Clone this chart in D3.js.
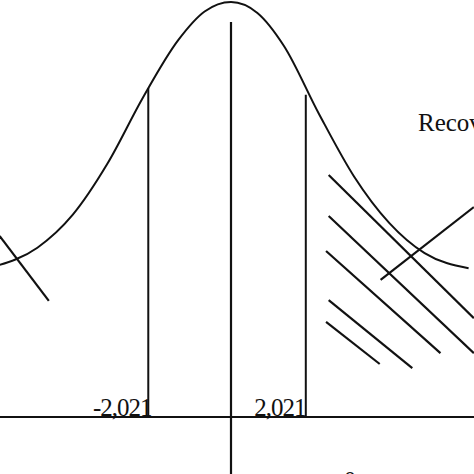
<!DOCTYPE html>
<html><head><meta charset="utf-8">
<script src="https://cdn.jsdelivr.net/npm/d3@7"></script>
<style>body{margin:0;background:#fff}text{font-family:"Liberation Serif","DejaVu Serif",serif;fill:#111}</style>
</head><body>
<script>
// curve (z, relative density)
var curveZ = [-2.7,-2.2,-1.8,-1.4,-1.0,-0.6,-0.3,0,0.3,0.6,1.0,1.4,1.8,2.2,2.7];
var curveH = [.03,.10,.22,.41,.65,.86,.965,1,.96,.84,.59,.36,.19,.08,.025];
var critZ = [-0.94, 0.85];
var critH = [.685, .66];
var critLabels = ["-2,021", "2,021"];
var baseH = -0.52;
// hatching and pointer strokes [z1,h1,z2,h2]
var hatch = [[1.11,.366,2.76,-.158],[1.11,.216,2.76,-.286],[1.08,.088,2.38,-.286],
             [1.11,-.092,2.06,-.341],[1.08,-.172,1.69,-.326]];
var pointers = [[1.70,-.018,2.76,.249],[-2.63,.143,-2.07,-.095]];

var W = 474, H = 474;
var x = d3.scaleLinear().domain([0,1]).range([231,319]);
var y = d3.scaleLinear().domain([0,1]).range([275,2]);
var svg = d3.select("body").append("svg").attr("width",W).attr("height",H);
var g = svg.append("g").attr("stroke","#111").attr("fill","none");

var pts = curveZ.map(function(z,i){ return [z, curveH[i]]; });
var line = d3.line().curve(d3.curveMonotoneX)
  .x(function(d){ return x(d[0]); }).y(function(d){ return y(d[1]); });
g.append("path").attr("d", line(pts)).attr("stroke-width",2);

g.append("line").attr("x1",0).attr("x2",W).attr("y1",y(baseH)).attr("y2",y(baseH)).attr("stroke-width",2);
g.append("line").attr("x1",x(0)).attr("x2",x(0)).attr("y1",y(.927)).attr("y2",H).attr("stroke-width",2.2);
g.selectAll(".crit").data(critZ).enter().append("line")
  .attr("x1",x).attr("x2",x).attr("y1",function(d,i){ return y(critH[i]); }).attr("y2",y(baseH)).attr("stroke-width",2);
g.selectAll(".seg").data(hatch.concat(pointers)).enter().append("line")
  .attr("x1",function(d){return x(d[0]);}).attr("y1",function(d){return y(d[1]);})
  .attr("x2",function(d){return x(d[2]);}).attr("y2",function(d){return y(d[3]);})
  .attr("stroke-width",2.2);

svg.selectAll(".cl").data(critZ).enter().append("text")
  .attr("x",function(d){ return x(d) - 26; }).attr("y",y(baseH)-1)
  .attr("text-anchor","middle").attr("font-size",25).attr("letter-spacing",-1)
  .text(function(d,i){ return critLabels[i]; });
svg.append("text").attr("x",418).attr("y",131).attr("font-size",25).text("Recovery");
svg.append("text").attr("x",350).attr("y",489).attr("text-anchor","middle").attr("font-size",25).text("0");
</script>
</body></html>
